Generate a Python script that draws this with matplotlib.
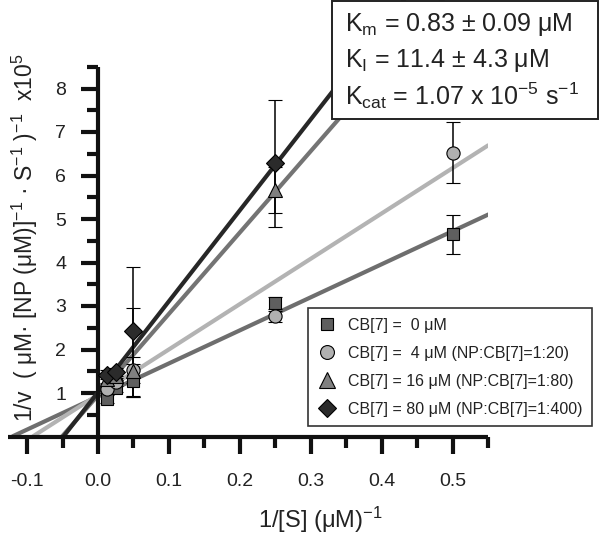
import matplotlib
matplotlib.use("Agg")
import matplotlib.pyplot as plt
from matplotlib.lines import Line2D
from matplotlib.patches import Rectangle
import numpy as np

plt.rcParams['font.family'] = ['Liberation Sans', 'DejaVu Sans']
plt.rcParams['mathtext.fontset'] = 'custom'
plt.rcParams['mathtext.rm'] = 'Liberation Sans'
plt.rcParams['mathtext.it'] = 'Liberation Sans:italic'
plt.rcParams['mathtext.bf'] = 'Liberation Sans:bold'

# ---- data ----
x_sq = [0.0125, 0.025, 0.05, 0.25, 0.5]
y_sq = [0.86, 1.12, 1.28, 3.07, 4.65]
e_sq = [0.10, 0.10, 0.38, 0.14, 0.45]

x_ci = [0.0125, 0.025, 0.05, 0.25, 0.5]
y_ci = [1.10, 1.25, 1.52, 2.76, 6.52]
e_ci = [0.10, 0.10, 0.30, 0.12, 0.70]

x_tr = [0.0125, 0.025, 0.05, 0.25]
y_tr = [1.32, 1.40, 1.50, 5.67]
e_tr_lo = [0.10, 0.10, 0.60, 0.53]
e_tr_hi = [0.10, 0.10, 1.45, 0.53]

x_di = [0.0125, 0.025, 0.05, 0.25]
y_di = [1.42, 1.48, 2.42, 6.28]
e_di = [0.10, 0.10, 1.48, 1.46]

# linear fits (slope, intercept)
fit_sq = (7.6, 0.92)
fit_ci = (10.42, 0.96)
fit_tr = (18.7, 0.95)
fit_di = (20.9, 1.02)

labels = ['CB[7] =  0 μM',
          'CB[7] =  4 μM (NP:CB[7]=1:20)',
          'CB[7] = 16 μM (NP:CB[7]=1:80)',
          'CB[7] = 80 μM (NP:CB[7]=1:400)']

xticks = [-0.1, 0.0, 0.1, 0.2, 0.3, 0.4, 0.5]
yticks = [1, 2, 3, 4, 5, 6, 7, 8]

W, H = 600, 535
fig = plt.figure(figsize=(6, 5.35), dpi=100)
ax_left, ax_right, ax_top, ax_bot = 8, 488, 0, 436.5
ax = fig.add_axes([ax_left / W, 1 - ax_bot / H, (ax_right - ax_left) / W, (ax_bot - ax_top) / H])
ax.set_xlim(-0.127, 0.549)
ax.set_ylim(0, 436.5 / 43.5)
ax.patch.set_alpha(0)

# fit lines
line_specs = [(fit_sq, '#6e6e6e', 0.551),
              (fit_ci, '#b3b3b3', 0.551),
              (fit_tr, '#747474', 0.551),
              (fit_di, '#272727', 0.551)]
for (m, b), c, xe in line_specs:
    x0 = -b / m
    xs = np.array([x0, xe])
    ax.plot(xs, m * xs + b, color=c, lw=3.0, solid_capstyle='butt', zorder=2)

ekw = dict(ecolor='black', elinewidth=1.1, capsize=5, capthick=1.1, ls='none', zorder=3)
ax.errorbar(x_sq, y_sq, yerr=e_sq, marker='s', ms=8.5, mfc='#5f5f5f', mec='black', mew=0.8, **ekw)
ax.errorbar(x_ci, y_ci, yerr=e_ci, marker='o', ms=9.5, mfc='#b0b0b0', mec='black', mew=0.8, **ekw)
ax.errorbar(x_tr, y_tr, yerr=[e_tr_lo, e_tr_hi], marker='^', ms=10.5, mfc='#808080', mec='black', mew=0.8, **ekw)
ax.errorbar(x_di, y_di, yerr=e_di, marker='D', ms=9.5, mfc='#2b2b2b', mec='black', mew=0.8, **ekw)

# spines
for s in ['top', 'right']:
    ax.spines[s].set_visible(False)
ax.spines['left'].set_position(('data', 0))
ax.spines['left'].set_bounds(0, 8.5)
ax.spines['bottom'].set_position(('data', 0))
for s in ['left', 'bottom']:
    ax.spines[s].set_linewidth(3.0)
    ax.spines[s].set_color('#111111')
    ax.spines[s].set_capstyle('butt')

ax.set_xticks(xticks)
ax.set_xticklabels(['%.1f' % v for v in xticks])
ax.set_xticks([-0.05, 0.05, 0.15, 0.25, 0.35, 0.45, 0.55], minor=True)
ax.set_yticks(yticks)
ax.set_yticklabels([str(v) for v in yticks])
ax.set_yticks([0.5, 1.5, 2.5, 3.5, 4.5, 5.5, 6.5, 7.5, 8.5], minor=True)
ax.tick_params(which='major', direction='out', length=12, width=3, color='#111111',
               labelsize=14, labelcolor='#222222')
ax.tick_params(which='minor', direction='out', length=8, width=3, color='#111111')
ax.tick_params(axis='x', which='major', pad=14)
ax.tick_params(axis='y', which='major', pad=11)

# axis labels
fig.text(320 / W, 1 - 520 / H, '1/[S] (μM)$^{-1}$', ha='center', va='center', fontsize=17, color='#222222')
fig.text(25 / W, 1 - 238 / H,
         '1/v  ( μM· [NP (μM)]$^{-1}$ · S$^{-1}$ )$^{-1}$  x10$^{5}$',
         rotation=90, ha='center', va='center', fontsize=16.5, color='#222222')

# legend
handles = [
    Line2D([], [], ls='none', marker='s', ms=9, mfc='#5f5f5f', mec='black', mew=0.8),
    Line2D([], [], ls='none', marker='o', ms=10, mfc='#b0b0b0', mec='black', mew=0.8),
    Line2D([], [], ls='none', marker='^', ms=11, mfc='#808080', mec='black', mew=0.8),
    Line2D([], [], ls='none', marker='D', ms=9.5, mfc='#2b2b2b', mec='black', mew=0.8),
]
leg = fig.legend(handles, labels, loc='upper left', bbox_to_anchor=(308 / W, 1 - 308 / H),
                 fontsize=11.5, frameon=True, fancybox=False, borderaxespad=0,
                 handletextpad=0.7, labelspacing=0.82, borderpad=0.6, handlelength=1.2)
leg.get_frame().set_edgecolor('black')
leg.get_frame().set_linewidth(1.2)
for t in leg.get_texts():
    t.set_color('#222222')

# parameter box
fig.patches.append(Rectangle((332 / W, 1 - 119 / H), (598 - 332) / W, 118 / H,
                             transform=fig.transFigure, facecolor='white', edgecolor='#222222',
                             lw=1.4, zorder=5))
box_lines = ['K$_{\\mathrm{m}}$ = 0.83 ± 0.09 μM',
             'K$_{\\mathrm{I}}$ = 11.4 ± 4.3 μM',
             'K$_{\\mathrm{cat}}$ = 1.07 x 10$^{-5}$ s$^{-1}$']
ys = [24, 61, 96]
for txt, yy in zip(box_lines, ys):
    fig.text(345 / W, 1 - yy / H, txt, ha='left', va='center', fontsize=18, color='#222222', zorder=6)

fig.savefig('out.png', dpi=100)
